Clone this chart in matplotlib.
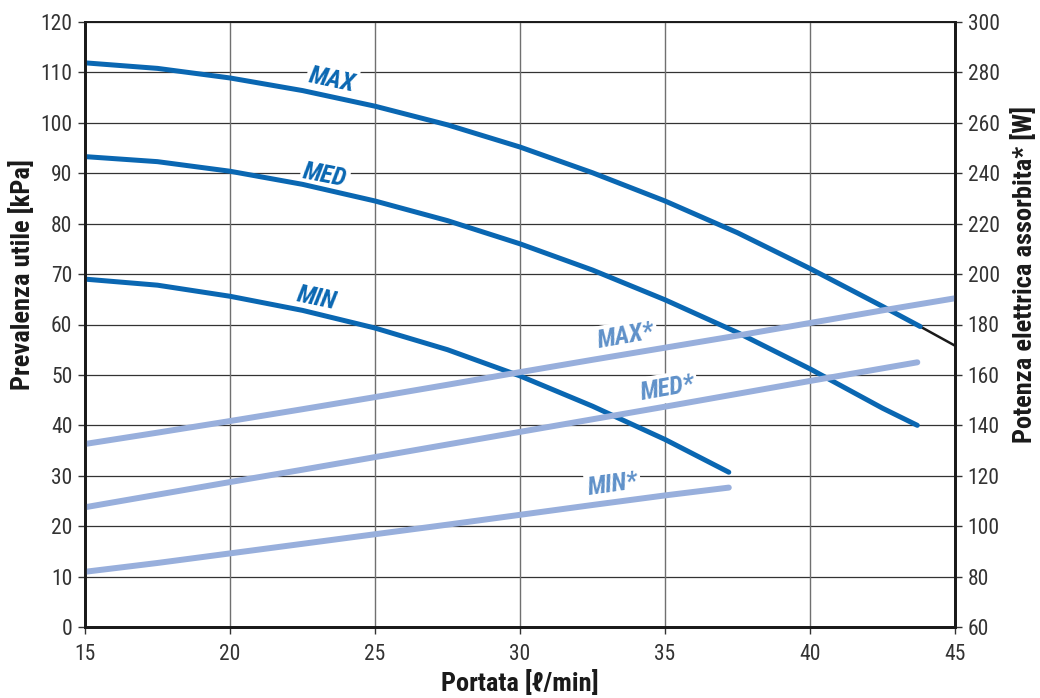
import matplotlib
matplotlib.use("Agg")
import matplotlib.pyplot as plt
from matplotlib import font_manager

names = {f.name for f in font_manager.fontManager.ttflist}
pref = ["Liberation Sans Narrow", "Roboto Condensed", "Open Sans Condensed", "Arial Narrow", "Roboto"]
main_font = next((n for n in pref if n in names), "DejaVu Sans")
plt.rcParams['font.family'] = [main_font, 'DejaVu Sans']

# Flow rate sample positions (l/min)
xs = [15, 17.5, 20, 22.5, 25, 27.5, 30, 32.5, 35, 37.5, 40, 42.5]

# Head curves (kPa)
max_x = xs + [43.8]
max_y = [111.9, 110.8, 108.9, 106.4, 103.3, 99.6, 95.2, 90.1, 84.5, 78.2, 71.1, 63.6, 59.6]
max_ext_x = [43.8, 45]
max_ext_y = [59.6, 55.8]
med_x = xs + [43.7]
med_y = [93.3, 92.3, 90.4, 87.8, 84.5, 80.6, 76.0, 70.8, 64.9, 58.4, 51.2, 43.4, 40.0]
min_x = [15, 17.5, 20, 22.5, 25, 27.5, 30, 32.5, 35, 37.2]
min_y = [69.0, 67.8, 65.6, 62.8, 59.3, 55.0, 49.8, 43.8, 37.2, 30.7]

# Absorbed power curves (W)
pmax_x = xs + [45]
pmax_y = [132.6, 137.1, 141.7, 146.4, 151.2, 156.1, 161.1, 166.0, 170.8, 175.6, 180.6, 185.6, 190.4]
pmed_x = xs + [43.7]
pmed_y = [107.5, 112.5, 117.5, 122.4, 127.4, 132.4, 137.4, 142.4, 147.4, 152.5, 157.6, 162.6, 165.0]
pmin_x = [15, 17.5, 20, 22.5, 25, 27.5, 30, 32.5, 35, 37.2]
pmin_y = [81.9, 85.4, 89.2, 93.0, 96.8, 100.6, 104.5, 108.4, 112.2, 115.3]

dark = "#0a67b2"
light = "#98afdc"
light_txt = "#5f91c9"

fig = plt.figure(figsize=(10.4, 6.98), dpi=100)
ax = fig.add_axes([85/1040, 71/698, 870/1040, 605/698])
ax2 = ax.twinx()

ax.set_xlim(15, 45)
ax.set_ylim(0, 120)
ax2.set_ylim(60, 300)
ax.set_xticks(range(15, 46, 5))
ax.set_yticks(range(0, 121, 10))
ax2.set_yticks(range(60, 301, 20))

for y in range(10, 121, 10):
    ax.axhline(y, color="#333333", lw=0.9, zorder=0.5)
for x in range(20, 45, 5):
    ax.axvline(x, color="#707070", lw=1.0, zorder=0.5)

kw_d = dict(color=dark, lw=3.6, zorder=3, solid_capstyle='round', solid_joinstyle='round')
ax.plot(max_x, max_y, **kw_d)
ax.plot(max_ext_x, max_ext_y, color="#1a1a1a", lw=1.8, zorder=2.9)
ax.plot(med_x, med_y, **kw_d)
ax.plot(min_x, min_y, **kw_d)

kw_l = dict(color=light, lw=4.3, zorder=2, solid_capstyle='round', solid_joinstyle='round')
ax2.plot(pmax_x, pmax_y, **kw_l)
ax2.plot(pmed_x, pmed_y, **kw_l)
ax2.plot(pmin_x, pmin_y, **kw_l)

bb = dict(facecolor='white', edgecolor='none', pad=2)
lab = dict(fontsize=18, fontweight='bold', fontstyle='italic', ha='center', va='center', zorder=1, bbox=bb)
ax.text(23.53, 108.5, "MAX", color=dark, rotation=-12, **lab)
ax.text(23.28, 89.5, "MED", color=dark, rotation=-11, **lab)
ax.text(22.99, 65.2, "MIN", color=dark, rotation=-12, **lab)
ax.text(33.66, 57.7, "MAX*", color=light_txt, rotation=10, **lab)
ax.text(35.09, 47.4, "MED*", color=light_txt, rotation=10, **lab)
ax.text(33.2, 28.2, "MIN*", color=light_txt, rotation=8, **lab)

for a in (ax, ax2):
    for s in ('left', 'right', 'bottom'):
        a.spines[s].set_linewidth(2.0)
        a.spines[s].set_color("#1a1a1a")
    a.spines['top'].set_linewidth(1.2)
    a.spines['top'].set_color("#1a1a1a")
    a.tick_params(labelsize=15.5, colors="#333333", length=5, width=1, direction='out', pad=4)

ax.tick_params(axis='x', pad=7)
ax.set_xlabel("Portata [ℓ/min]", fontsize=19, fontweight='bold', labelpad=4, color="#1a1a1a")
ax.set_ylabel("Prevalenza utile [kPa]", fontsize=19, fontweight='bold', color="#1a1a1a")
ax2.set_ylabel("Potenza elettrica assorbita* [W]", fontsize=19, fontweight='bold', color="#1a1a1a")
ax.yaxis.set_label_coords(-0.058, 0.582)
ax2.yaxis.set_label_coords(1.064, 0.582)

fig.savefig("out.png", dpi=100)
